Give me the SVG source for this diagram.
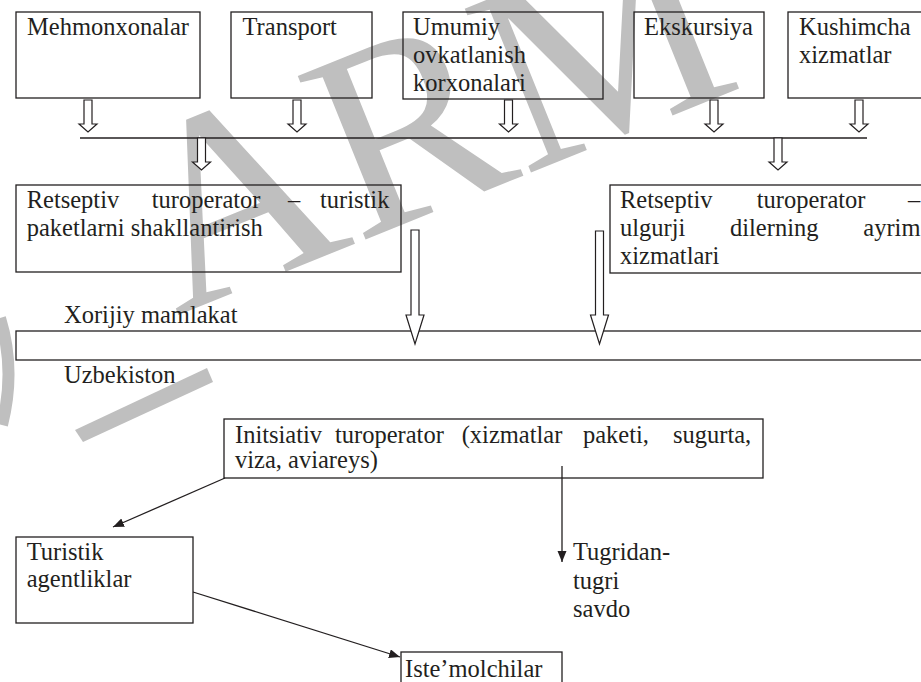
<svg xmlns="http://www.w3.org/2000/svg" width="921" height="682" viewBox="0 0 921 682">
<style>
.t{font-family:"Liberation Serif","Times New Roman",serif;font-size:24.5px;fill:#231f20}
.b{fill:none;stroke:#231f20;stroke-width:1.3}
.ha{fill:#fff;stroke:#231f20;stroke-width:1.2}
.ln{stroke:#231f20;stroke-width:1.3;fill:none}
.wm{font-family:"Liberation Serif","Times New Roman",serif;fill:#bfbfbf}
</style>
<defs>
<marker id="ah" markerUnits="userSpaceOnUse" markerWidth="12" markerHeight="10" refX="11" refY="4.5" orient="auto">
<path d="M0,0 L11,4.5 L0,9 z" fill="#231f20"/>
</marker>
</defs>
<rect width="921" height="682" fill="#fff"/>
<g id="watermark">
<text class="wm" font-size="270" transform="translate(176,316) rotate(-22)">ARM</text>
<polygon points="75,430 207,368 213,382 83,442" fill="#bfbfbf"/>
<path d="M0,318 Q16,370 2,425" fill="none" stroke="#bfbfbf" stroke-width="12"/>
</g>
<g id="n-mehmonxonalar"><rect class="b" x="16" y="12" width="184" height="86"/><text class="t" x="27" y="35">Mehmonxonalar</text></g>
<g id="n-transport"><rect class="b" x="231" y="12" width="141" height="86"/><text class="t" x="242.5" y="35">Transport</text></g>
<g id="n-umumiy"><rect class="b" x="403" y="12" width="200" height="87"/><text class="t" x="413" y="35">Umumiy</text><text class="t" x="413" y="63">ovkatlanish</text><text class="t" x="413" y="91">korxonalari</text></g>
<g id="n-ekskursiya"><rect class="b" x="634" y="12" width="130" height="86"/><text class="t" x="644" y="35">Ekskursiya</text></g>
<g id="n-kushimcha"><rect class="b" x="788" y="12" width="140" height="86"/><text class="t" x="799" y="35">Kushimcha</text><text class="t" x="799" y="63">xizmatlar</text></g>
<g id="n-retseptiv1"><rect class="b" x="16" y="185" width="385" height="87"/>
<text class="t" y="207.5"><tspan x="26.7">Retseptiv</tspan><tspan x="151.7">turoperator</tspan><tspan x="288">–</tspan><tspan x="320">turistik</tspan></text>
<text class="t" x="26.7" y="235.5">paketlarni shakllantirish</text></g>
<g id="n-retseptiv2"><rect class="b" x="610" y="185" width="320" height="88"/>
<text class="t" y="207.5"><tspan x="620">Retseptiv</tspan><tspan x="756.7">turoperator</tspan><tspan x="908">–</tspan></text>
<text class="t" y="235.5"><tspan x="620">ulgurji</tspan><tspan x="730">dilerning</tspan><tspan x="863.3">ayrim</tspan></text>
<text class="t" x="620" y="264">xizmatlari</text></g>
<g id="n-border"><rect class="b" x="16" y="331" width="920" height="29"/>
<text class="t" x="64" y="322.5">Xorijiy mamlakat</text>
<text class="t" x="64" y="382.7">Uzbekiston</text></g>
<g id="n-initsiativ"><rect class="b" x="224" y="419" width="539" height="59"/>
<text class="t" y="443"><tspan x="235">Initsiativ</tspan><tspan x="335">turoperator</tspan><tspan x="461.7">(xizmatlar</tspan><tspan x="583">paketi,</tspan><tspan x="673">sugurta,</tspan></text>
<text class="t" x="235" y="467.5">viza, aviareys)</text></g>
<g id="n-turistik"><rect class="b" x="16" y="537" width="177" height="86"/>
<text class="t" x="26.7" y="559.5">Turistik</text><text class="t" x="26.7" y="587">agentliklar</text></g>
<g id="n-tugridan"><text class="t" x="573" y="560">Tugridan-</text><text class="t" x="573" y="588.5">tugri</text><text class="t" x="573" y="616.5">savdo</text></g>
<g id="n-istemolchilar"><rect class="b" x="401" y="652" width="161" height="40"/><text class="t" x="405" y="677">Iste’molchilar</text></g>
<g id="connectors">
<line class="ln" x1="80" y1="138" x2="867" y2="138"/>
<polygon class="ha" points="84,100 92,100 92,124 97,124 88,132 79,124 84,124"/>
<polygon class="ha" points="293,100 301,100 301,124 306,124 297,132 288,124 293,124"/>
<polygon class="ha" points="504.5,100 512.5,100 512.5,124 517.5,124 508.5,132 499.5,124 504.5,124"/>
<polygon class="ha" points="710,100 718,100 718,124 723,124 714,132 705,124 710,124"/>
<polygon class="ha" points="855,100 863,100 863,124 868,124 859,132 850,124 855,124"/>
<polygon class="ha" points="197.5,138 205.5,138 205.5,162 210.5,162 201.5,170 192.5,162 197.5,162"/>
<polygon class="ha" points="774,138 782,138 782,162 787,162 778,170 769,162 774,162"/>
<polygon class="ha" points="411,230 419,230 419,315 424,315 415,344 406,315 411,315"/>
<polygon class="ha" points="595.5,231 603.5,231 603.5,315 608.5,315 599.5,344 590.5,315 595.5,315"/>
<line class="ln" x1="225" y1="478" x2="113" y2="527" marker-end="url(#ah)"/>
<line class="ln" x1="562" y1="466" x2="562" y2="562" stroke="#444" marker-end="url(#ah)"/>
<line class="ln" x1="193" y1="592" x2="400" y2="657" marker-end="url(#ah)"/>
</g>
</svg>
